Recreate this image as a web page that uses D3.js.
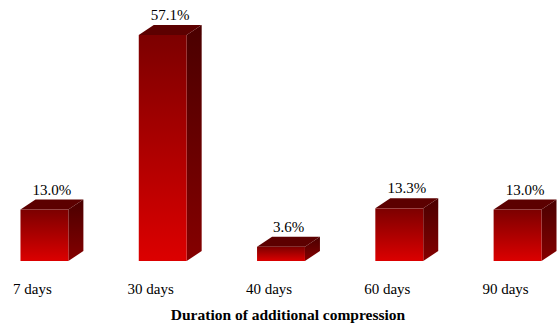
<!DOCTYPE html>
<html>
<head>
<meta charset="utf-8">
<script src="https://cdn.jsdelivr.net/npm/d3@7"></script>
<style>
  body { margin: 0; background: #fff; }
  svg { display: block; }
</style>
</head>
<body>
<svg id="chart" width="560" height="325"></svg>
<script>
// Share of cases by duration of additional compression
const categories = ["7 days", "30 days", "40 days", "60 days", "90 days"];
const values = [13.0, 57.1, 3.6, 13.3, 13.0];
const valueLabels = ["13.0%", "57.1%", "3.6%", "13.3%", "13.0%"];
const axisTitle = "Duration of additional compression";

const FONT = "'Times New Roman', 'Liberation Serif', 'DejaVu Serif', serif";

const svg = d3.select("#chart");
const depthX = 15, depthY = 10;
const floorY = 261;

const x = d3.scaleBand()
  .domain(categories)
  .range([-15, 577])
  .paddingInner(0.595)
  .paddingOuter(0.3);

const y = d3.scaleLinear()
  .domain([0, 57.1])
  .range([floorY, 35]);

const defs = svg.append("defs");
const gFront = defs.append("linearGradient")
  .attr("id", "front").attr("x1", 0).attr("y1", 0).attr("x2", 0).attr("y2", 1);
gFront.append("stop").attr("offset", "0%").attr("stop-color", "#7c0000");
gFront.append("stop").attr("offset", "100%").attr("stop-color", "#dc0000");

const gSide = defs.append("linearGradient")
  .attr("id", "side").attr("x1", 0).attr("y1", 0).attr("x2", 0).attr("y2", 1);
gSide.append("stop").attr("offset", "0%").attr("stop-color", "#4a0000");
gSide.append("stop").attr("offset", "100%").attr("stop-color", "#850000");

const bars = svg.append("g").selectAll("g")
  .data(categories.map((c, i) => ({ c, v: values[i], label: valueLabels[i] })))
  .join("g");

// right side face
bars.append("path")
  .attr("fill", "url(#side)")
  .attr("d", d => {
    const x1 = x(d.c) + x.bandwidth(), t = y(d.v);
    return `M${x1},${t}L${x1 + depthX},${t - depthY}L${x1 + depthX},${floorY - depthY}L${x1},${floorY}Z`;
  });

// top face
bars.append("path")
  .attr("fill", "#5c0000")
  .attr("d", d => {
    const x0 = x(d.c), x1 = x0 + x.bandwidth(), t = y(d.v);
    return `M${x0},${t}L${x0 + depthX},${t - depthY}L${x1 + depthX},${t - depthY}L${x1},${t}Z`;
  });

// front face
bars.append("rect")
  .attr("fill", "url(#front)")
  .attr("x", d => x(d.c))
  .attr("y", d => y(d.v))
  .attr("width", x.bandwidth())
  .attr("height", d => floorY - y(d.v));

// value labels above each bar
bars.append("text")
  .attr("x", d => x(d.c) + (x.bandwidth() + depthX) / 2)
  .attr("y", d => y(d.v) - depthY - 5)
  .attr("text-anchor", "middle")
  .attr("font-family", FONT)
  .attr("font-size", 15)
  .text(d => d.label);

// category labels
svg.append("g").selectAll("text")
  .data(categories)
  .join("text")
  .attr("x", d => x(d) + x.bandwidth() / 2 - 12)
  .attr("y", 294)
  .attr("text-anchor", "middle")
  .attr("font-family", FONT)
  .attr("font-size", 15)
  .text(d => d);

svg.append("text")
  .attr("x", 288)
  .attr("y", 320)
  .attr("text-anchor", "middle")
  .attr("font-family", FONT)
  .attr("font-size", 15.5)
  .attr("font-weight", "bold")
  .text(axisTitle);
</script>
</body>
</html>
